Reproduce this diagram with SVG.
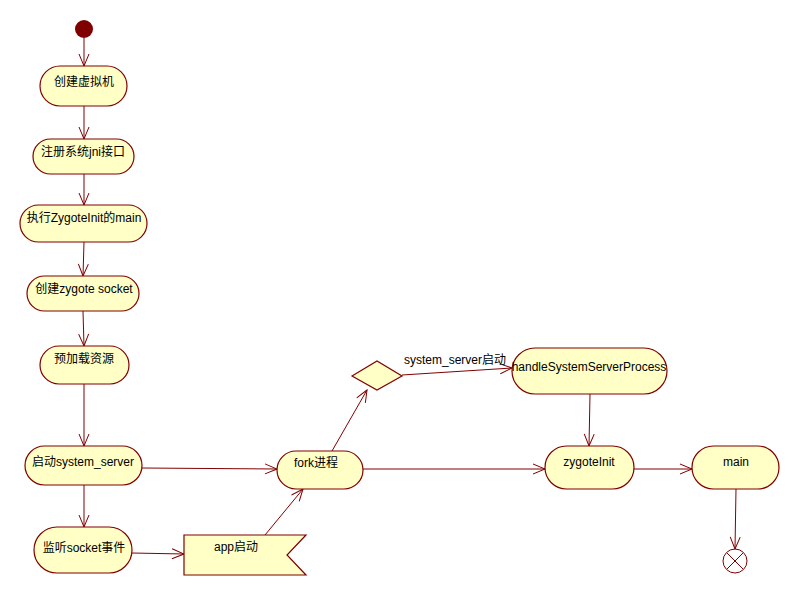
<svg xmlns="http://www.w3.org/2000/svg" width="801" height="595" viewBox="0 0 801 595">
<style>
.n{fill:#ffffc6;stroke:#800000;stroke-width:1.2}
.t{font-family:"Liberation Sans","Noto Sans CJK SC",sans-serif;font-size:12px;fill:#000;text-anchor:middle}
.e{stroke:#800000;stroke-width:1;fill:none;marker-end:url(#a)}
</style>
<defs><marker id="a" markerWidth="14" markerHeight="12" refX="13" refY="6" orient="auto" markerUnits="userSpaceOnUse"><path d="M1,1 L13,6 L1,11" fill="none" stroke="#800000"/></marker></defs>
<rect width="801" height="595" fill="#fff"/>
<g id="connectors">
<line class="e" x1="84" y1="38" x2="84" y2="66"/>
<line class="e" x1="84" y1="106" x2="84" y2="139"/>
<line class="e" x1="84" y1="174" x2="84" y2="205"/>
<line class="e" x1="84" y1="242" x2="83" y2="276"/>
<line class="e" x1="83" y1="311" x2="84" y2="346"/>
<line class="e" x1="84" y1="384" x2="84" y2="446"/>
<line class="e" x1="84" y1="485" x2="84" y2="527"/>
<line class="e" x1="142" y1="468" x2="277" y2="469"/>
<line class="e" x1="132" y1="553" x2="184" y2="554"/>
<line class="e" x1="265" y1="535" x2="303" y2="489"/>
<line class="e" x1="332" y1="451" x2="367" y2="390"/>
<line class="e" x1="402" y1="375" x2="512" y2="368"/>
<line class="e" x1="590" y1="394" x2="589" y2="446"/>
<line class="e" x1="363" y1="469" x2="545" y2="469"/>
<line class="e" x1="634" y1="469" x2="692" y2="469"/>
<line class="e" x1="736" y1="489" x2="735" y2="549"/>
</g>
<g id="start"><circle cx="84" cy="29" r="9" fill="#800000"/></g>
<g id="n1"><rect class="n" x="40" y="66" width="87" height="40" rx="20"/><text class="t" x="84" y="86">创建虚拟机</text></g>
<g id="n2"><rect class="n" x="33" y="139" width="101" height="35" rx="17.5"/><text class="t" x="83" y="156">注册系统jni接口</text></g>
<g id="n3"><rect class="n" x="20" y="205" width="127" height="37" rx="18.5"/><text class="t" x="84" y="222">执行ZygoteInit的main</text></g>
<g id="n4"><rect class="n" x="27" y="276" width="112" height="35" rx="17.5"/><text class="t" x="84" y="293">创建zygote socket</text></g>
<g id="n5"><rect class="n" x="40" y="346" width="89" height="38" rx="19"/><text class="t" x="84" y="363">预加载资源</text></g>
<g id="n6"><rect class="n" x="25" y="446" width="117" height="39" rx="19.5"/><text class="t" x="83" y="466">启动system_server</text></g>
<g id="n7"><rect class="n" x="34" y="527" width="98" height="46" rx="23"/><text class="t" x="84" y="552">监听socket事件</text></g>
<g id="app"><path class="n" d="M184,535 H306 L287,555 L306,575 H184 Z"/><text class="t" x="236" y="551">app启动</text></g>
<g id="fork"><rect class="n" x="277" y="451" width="86" height="38" rx="19"/><text class="t" x="316" y="467">fork进程</text></g>
<g id="decision"><path class="n" d="M352,376 L377,361 L402,376 L377,390 Z"/><text class="t" x="455" y="364">system_server启动</text></g>
<g id="hssp"><rect class="n" x="512" y="348" width="155" height="46" rx="23"/><text class="t" x="589" y="371">handleSystemServerProcess</text></g>
<g id="zi"><rect class="n" x="545" y="446" width="89" height="43" rx="21.5"/><text class="t" x="589" y="466">zygoteInit</text></g>
<g id="main"><rect class="n" x="692" y="446" width="87" height="43" rx="21.5"/><text class="t" x="736" y="466">main</text></g>
<g id="end"><circle cx="735" cy="561" r="12" fill="#fff" stroke="#800000"/><path d="M727,553 L743,569 M743,553 L727,569" stroke="#800000"/></g>
</svg>
